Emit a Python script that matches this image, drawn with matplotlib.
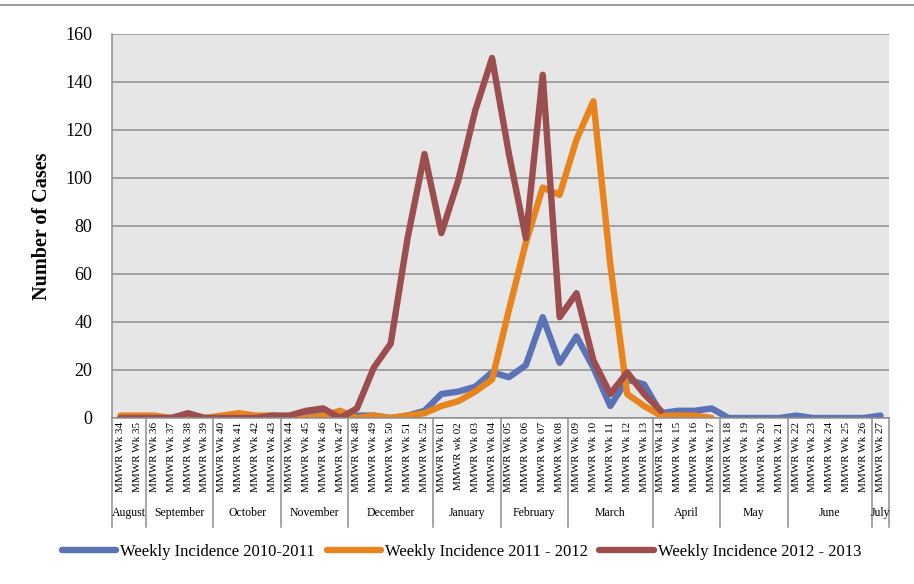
import numpy as np
import matplotlib
matplotlib.use('Agg')
import matplotlib.pyplot as plt
from matplotlib.lines import Line2D

# 주차 라벨
weeks = ['MMWR Wk %d' % w for w in range(34, 53)] + \
        ['MMWR Wk %02d' % w for w in range(1, 28)]
weeks[20] = 'MMWR wk 02'

# 월 구분 (시작 인덱스, 끝 인덱스, 이름)
month_names = ['August', 'September', 'October', 'November', 'December', 'January',
               'February', 'March', 'April', 'May', 'June', 'July']
month_edges = [0, 2, 6, 10, 14, 19, 23, 27, 32, 36, 40, 45, 46]

nan = np.nan
inc_2010 = [0, 0, 0, 0, 0, 0, 0, 0, 0, 1, 0, 1, 2, 1, 1, 1, 0, 1, 3, 10,
            11, 13, 19, 17, 22, 42, 23, 34, 21, 5, 16, 14, 2, 3, 3, 4, 0, 0, 0, 0,
            1, 0, 0, 0, 0, 1]
inc_2011 = [1, 1, 1, 0, 0, 0, 1, 2, 1, 1, 0, 0, 1, 3, 0, 1, 0, 1, 2, 5,
            7, 11, 16, 45, 73, 96, 93, 116, 132, 64, 10, 5, 1, 1, 1, 0, nan, nan, nan, nan,
            nan, nan, nan, nan, nan, nan]
inc_2012 = [0, 0, 0, 0, 2, 0, 0, 0, 0, 1, 1, 3, 4, 0, 4, 21, 31, 75, 110, 77,
            99, 128, 150, 110, 75, 143, 42, 52, 24, 10, 19, 10, 3, nan, nan, nan, nan, nan, nan, nan,
            nan, nan, nan, nan, nan, nan]

plt.rcParams['font.family'] = ['Liberation Serif', 'DejaVu Serif']

fig = plt.figure(figsize=(9.14, 5.84), dpi=100)
ax = fig.add_axes([112 / 914, 1 - 418 / 584, (889 - 112) / 914, (418 - 34) / 584])
ax.set_facecolor('#E6E6E6')

x = np.arange(len(weeks))
kw = dict(linewidth=4.6, solid_capstyle='round', solid_joinstyle='round')
ax.plot(x, inc_2010, color='#5B72B5', label='Weekly Incidence 2010-2011', **kw)
ax.plot(x, inc_2011, color='#E8841E', label='Weekly Incidence 2011 - 2012', **kw)
ax.plot(x, inc_2012, color='#9C4E4E', label='Weekly Incidence 2012 - 2013', **kw)

ax.set_xlim(-0.5, len(weeks) - 0.5)
ax.set_ylim(0, 160)
ax.set_yticks(range(0, 161, 20))
ax.tick_params(axis='y', length=0, pad=14, labelsize=13)
ax.set_xticks(x)
ax.set_xticklabels(weeks, rotation=90, fontsize=8, va='top')
ax.tick_params(axis='x', length=0, pad=3)
ax.yaxis.grid(True, color='#8E8E8E', linewidth=1.1)
ax.set_axisbelow(True)
for s in ['top', 'right']:
    ax.spines[s].set_visible(False)
for s in ['left', 'bottom']:
    ax.spines[s].set_color('#8E8E8E')
    ax.spines[s].set_linewidth(1.1)

ax.set_ylabel('Number of Cases', fontsize=14.5, fontweight='bold', labelpad=10)

# 월 구분선과 월 이름
trans = ax.get_xaxis_transform()
sep_bottom = -(527 - 418) / 384
for e in month_edges:
    ax.plot([e - 0.5, e - 0.5], [0, sep_bottom], transform=trans, color='#8E8E8E',
            linewidth=1.1, clip_on=False)
for i, name in enumerate(month_names):
    mid = (month_edges[i] + month_edges[i + 1]) / 2 - 0.5
    ax.text(mid, -(513 - 418) / 384, name, transform=trans, ha='center', va='center',
            fontsize=8.5)

fig.legend(loc='center', bbox_to_anchor=(0.505, 1 - 552 / 584), ncol=3, frameon=False,
           fontsize=12, handlelength=3.25, handletextpad=0.25, columnspacing=0.7)

fig.add_artist(Line2D([0, 1], [1 - 5 / 584, 1 - 5 / 584], color='#A0A0A0', linewidth=1.5))

fig.savefig('out.png', dpi=100)
